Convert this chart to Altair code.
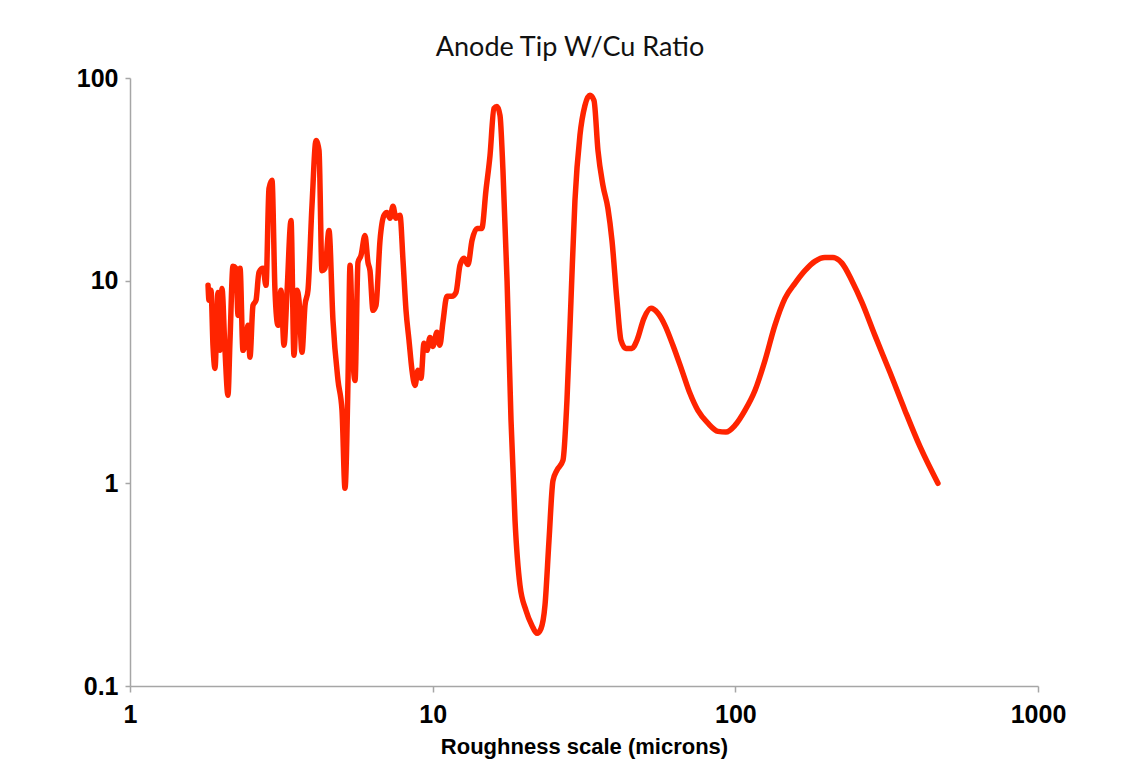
import altair as alt
import pandas as pd

# Roughness scale (microns)
x_vals = [1.811, 1.824, 1.852, 1.880, 1.909, 1.953, 1.983, 2.013, 2.060, 2.107,
          2.140, 2.189, 2.240, 2.275, 2.310, 2.362, 2.416, 2.454, 2.491, 2.549,
          2.608, 2.668, 2.751, 2.814, 2.879, 2.945, 3.013, 3.083, 3.154, 3.227,
          3.301, 3.404, 3.482, 3.563, 3.617, 3.700, 3.786, 3.873, 3.993, 4.117,
          4.212, 4.309, 4.409, 4.544, 4.684, 4.867, 5.017, 5.133, 5.252, 5.333,
          5.456, 5.540, 5.666, 5.797, 5.976, 6.114, 6.208, 6.352, 6.498, 6.699,
          6.906, 7.063, 7.225, 7.394, 7.565, 7.798, 7.980, 8.164, 8.352, 8.545,
          8.742, 8.944, 9.150, 9.361, 9.577, 9.797, 10.02, 10.33, 10.56, 10.81,
          11.15, 11.58, 11.94, 12.31, 12.69, 13.08, 13.49, 14.01, 14.53, 15.00,
          15.47, 15.94, 16.31, 16.69, 17.07, 17.61, 18.15, 18.71, 19.43, 20.34,
          21.28, 22.12, 22.80, 23.50, 24.23, 24.97, 25.73, 26.95, 27.78, 28.64,
          29.52, 30.66, 31.85, 33.09, 34.12, 35.17, 36.53, 37.94, 39.12, 40.63,
          41.89, 43.51, 45.54, 47.3, 49.9, 52.63, 55.5, 58.54, 62.2, 66.6,
          70.8, 75.2, 81.2, 87.6, 93.1, 99.7, 107.6, 116.1, 125.3, 135.1,
          145.9, 157.4, 169.8, 183.2, 197.7, 210.1, 225.0, 242.7, 262.0, 289.2,
          324.2, 363.4, 407.3, 467.1]

# Anode tip W/Cu ratio
y_vals = [9.48, 8.0, 8.96, 4.80, 3.69, 8.75, 4.53, 9.16, 4.53, 2.72,
          5.08, 11.77, 11.5, 6.74, 11.5, 4.53, 5.08, 6.02, 4.19, 7.55,
          8.0, 11.0, 11.5, 9.48, 28.5, 31.3, 8.96, 6.02, 8.96, 4.80,
          8.66, 19.8, 4.28, 8.96, 8.0, 4.43, 7.55, 8.96, 23.5, 49.2,
          43.9, 11.2, 11.5, 17.7, 6.37, 3.22, 2.29, 0.945, 3.22, 11.9,
          4.04, 3.22, 12.3, 13.3, 16.7, 12.3, 11.2, 7.14, 7.55, 15.8,
          21.0, 21.7, 20.3, 23.3, 20.3, 21.0, 12.6, 7.14, 5.08, 3.61,
          3.04, 3.61, 3.30, 4.91, 4.53, 5.25, 4.74, 5.56, 4.80, 6.23,
          8.37, 8.37, 8.75, 11.9, 12.9, 12.0, 15.8, 18.1, 18.1, 27.9,
          41.5, 70.8, 72.4, 65.4, 35.0, 10.0, 2.05, 0.657, 0.314, 0.236,
          0.199, 0.182, 0.192, 0.250, 0.523, 1.03, 1.16, 1.30, 2.57, 8.0,
          24.9, 52.1, 73.2, 82.1, 77.5, 43.9, 29.5, 22.7, 15.8, 8.0,
          5.08, 4.63, 4.63, 5.08, 6.52, 7.30, 6.90, 6.02, 4.80, 3.61,
          2.78, 2.29, 1.98, 1.805, 1.79, 1.93, 2.29, 2.87, 4.04, 6.02,
          8.18, 9.70, 11.2, 12.45, 13.0, 13.0, 12.2, 10.0, 7.82, 5.37,
          3.53, 2.29, 1.52, 1.0]

x_ticks = [1, 10, 100, 1000]
y_ticks = [0.1, 1, 10, 100]

df = pd.DataFrame({"x": x_vals, "y": y_vals})

label_font = "Liberation Sans"

chart = (
    alt.Chart(df)
    .mark_line(color="#FF2400", strokeWidth=5.5, interpolate="monotone",
               strokeJoin="round", strokeCap="round")
    .encode(
        x=alt.X("x:Q",
                scale=alt.Scale(type="log", domain=[1, 1000], nice=False),
                axis=alt.Axis(values=x_ticks, format="~g", title="Roughness scale (microns)",
                              grid=False, tickSize=6, labelPadding=10, labelFlush=False,
                              titlePadding=9)),
        y=alt.Y("y:Q",
                scale=alt.Scale(type="log", domain=[0.1, 100], nice=False),
                axis=alt.Axis(values=y_ticks, format="~g", title=None,
                              grid=False, tickSize=5, labelPadding=7, labelFlush=False)),
    )
    .properties(
        width=908,
        height=608,
        title=alt.TitleParams("Anode Tip W/Cu Ratio", font="Lato", fontSize=27,
                              fontWeight="normal", color="#111111", offset=4, dx=-14),
        autosize=alt.AutoSizeParams(type="none"),
        padding={"left": 122, "top": 70, "right": 76, "bottom": 77},
    )
    .configure_view(stroke=None)
    .configure_axis(
        domainColor="#A6A6A6", domainWidth=1.5, tickColor="#A6A6A6", tickWidth=1.5,
        labelFont=label_font, labelFontSize=25, labelFontWeight="bold", labelColor="#000000",
        titleFont=label_font, titleFontSize=22, titleFontWeight="bold", titleColor="#000000",
    )
)

chart.save("out.html", embed_options={"renderer": "svg", "actions": False})
